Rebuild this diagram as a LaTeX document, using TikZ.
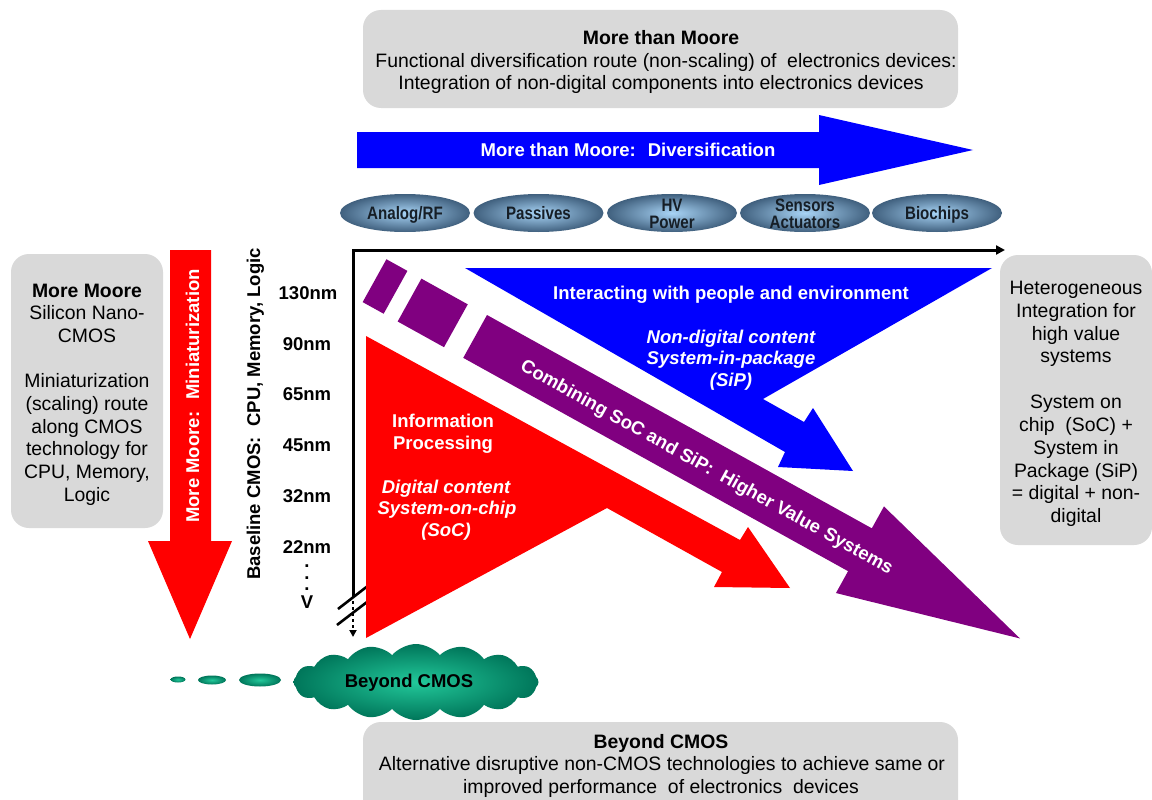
\documentclass[tikz,border=0pt]{standalone}
\usepackage{fontspec}
\setmainfont{Liberation Sans}
\usetikzlibrary{shapes.symbols,shapes.geometric,arrows.meta}
\definecolor{boxgray}{HTML}{D9D9D9}
\definecolor{mblue}{HTML}{0000FF}
\definecolor{mred}{HTML}{FF0000}
\definecolor{mpurple}{HTML}{800080}
\definecolor{cgreenin}{HTML}{22C89A}
\definecolor{cgreenout}{HTML}{00765A}
\definecolor{ellin}{HTML}{A8D4F6}
\definecolor{ellout}{HTML}{40607E}
\definecolor{elltext}{HTML}{161E26}
\begin{document}
\begin{tikzpicture}[x=1pt,y=-1pt,
  reg/.style={font=\fontsize{19.4}{22.7}\selectfont, inner sep=0, anchor=base, text=black},
  regb/.style={reg, font=\fontsize{19.4}{22.7}\selectfont\bfseries},
  wb/.style={font=\fontsize{18.5}{22}\selectfont\bfseries, text=white, inner sep=0, anchor=base},
  wbi/.style={wb, font=\fontsize{18.5}{22}\selectfont\bfseries\itshape},
  pword/.style={wb, anchor=base west, transform shape},
  lab/.style={font=\fontsize{18.5}{22}\selectfont\bfseries, inner sep=0, anchor=base, text=black},
  pilltext/.style={font=\fontsize{18}{17}\selectfont\bfseries, inner sep=0, anchor=base, text=elltext},
  graybox/.style={fill=boxgray, rounded corners=18pt, inner sep=0},
  pill/.style={ellipse, minimum width=130, minimum height=38, inner sep=0, shading=radial, inner color=ellin, outer color=ellout},
  blob/.style={ellipse, inner sep=0, shading=radial, inner color=cgreenin, outer color=cgreenout},
  axisline/.style={line width=3pt, draw=black}]

\useasboundingbox (0,0) rectangle (1152,800);
\fill[white] (0,0) rectangle (1152,800);

% ---------- gray boxes ----------
\node[graybox, minimum width=595, minimum height=98] (topbox) at (660.5,59) {};
\node[graybox, minimum width=152, minimum height=274] (leftbox) at (87,391) {};
\node[graybox, minimum width=152, minimum height=290] (rightbox) at (1076,400) {};
\node[graybox, minimum width=595, minimum height=110] (botbox) at (660.5,777) {};

% top box text
\node[regb] (t1) at (661,45) {More than Moore};
\node[reg] (t2) at (666,67) {Functional diversification route (non-scaling) of~ electronics devices:};
\node[reg] (t3) at (661,90) {Integration of non-digital components into electronics devices};

% bottom box text
\node[regb] (b1) at (661,748) {Beyond CMOS};
\node[reg] (b2) at (662,770) {Alternative disruptive non-CMOS technologies to achieve same or};
\node[reg] (b3) at (661,793) {improved performance~ of electronics~ devices};

% left box text
\node[regb] (l1) at (87,297) {More Moore};
\node[reg] (l2) at (87,319.7) {Silicon Nano-};
\node[reg] (l3) at (87,342.4) {CMOS};
\node[reg] (l4) at (87,387.8) {Miniaturization};
\node[reg] (l5) at (87,410.5) {(scaling) route};
\node[reg] (l6) at (87,433.2) {along CMOS};
\node[reg] (l7) at (87,455.9) {technology for};
\node[reg] (l8) at (87,478.6) {CPU, Memory,};
\node[reg] (l9) at (87,501.3) {Logic};

% right box text
\node[reg] (r1) at (1076,294) {Heterogeneous};
\node[reg] (r2) at (1076,317) {Integration for};
\node[reg] (r3) at (1076,340) {high value};
\node[reg] (r4) at (1076,362) {systems};
\node[reg] (r5) at (1076,408) {System on};
\node[reg] (r6) at (1076,431) {chip~ (SoC) +};
\node[reg] (r7) at (1076,454) {System in};
\node[reg] (r8) at (1076,477) {Package (SiP)};
\node[reg] (r9) at (1076,499) {= digital + non-};
\node[reg] (r10) at (1076,522) {digital};

% ---------- blue diversification arrow ----------
\fill[mblue] (357,132) -- (819,132) -- (819,115) -- (973,150) -- (819,185) -- (819,168) -- (357,168) -- cycle;
\node[wb] (divtext) at (628,156.5) {More than Moore:~ Diversification};

% ---------- pills ----------
\node[pill] (p1) at (405,213) {};
\node[pill] (p2) at (538.5,213) {};
\node[pill] (p3) at (672,213) {};
\node[pill] (p4) at (805,213) {};
\node[pill] (p5) at (937,213) {};
\node[pilltext] (p1t) at (405,219.5) {\scalebox{0.84}[1]{Analog/RF}};
\node[pilltext] (p2t) at (538.5,219.5) {\scalebox{0.84}[1]{Passives}};
\node[pilltext] (p3ta) at (672,211) {\scalebox{0.84}[1]{HV}};
\node[pilltext] (p3tb) at (672,228) {\scalebox{0.84}[1]{Power}};
\node[pilltext] (p4ta) at (805,211) {\scalebox{0.84}[1]{Sensors}};
\node[pilltext] (p4tb) at (805,228) {\scalebox{0.84}[1]{Actuators}};
\node[pilltext] (p5t) at (937,219.5) {\scalebox{0.84}[1]{Biochips}};

% ---------- red More Moore arrow ----------
\fill[mred] (170,250) -- (211,250) -- (211,541) -- (232,541) -- (190,639) -- (148,541) -- (170,541) -- cycle;
\node[wb, anchor=center, rotate=90] (mmtext) at (192.5,396) {More Moore:~ Miniaturization};

% baseline text
\node[lab, anchor=center, rotate=90] (basetext) at (255.5,414) {Baseline CMOS:~ CPU, Memory, Logic};

% nm labels
\node[lab] (n130) at (308,299.5) {130nm};
\node[lab] (n90) at (307,350.5) {90nm};
\node[lab] (n65) at (307,400.5) {65nm};
\node[lab] (n45) at (307,451.5) {45nm};
\node[lab] (n32) at (307,502.5) {32nm};
\node[lab] (n22) at (307,553.5) {22nm};
\node[lab] (d1) at (307,567) {.};
\node[lab] (d2) at (307,579) {.};
\node[lab] (d3) at (307,590) {.};
\node[lab] (nv) at (307,608.5) {V};

% ---------- axes ----------
\coordinate (axB) at (353,597);
\coordinate (axO) at (353,250);
\coordinate (axE) at (1005,250);
\draw[axisline, -{Triangle[length=9pt,width=9pt]}] (axB) -- (axO) -- (axE);
\coordinate (br1a) at (338,609); \coordinate (br1b) at (369,585);
\coordinate (br2a) at (337,625); \coordinate (br2b) at (367,602);
\draw[line width=2.6pt] (br1a) -- (br1b);
\draw[line width=2.6pt] (br2a) -- (br2b);
\coordinate (dotS) at (353,601);
\coordinate (dotE) at (353,637);
\draw[line width=2pt, dash pattern=on 2.5pt off 3.5pt, -{Triangle[length=7pt,width=7pt]}] (dotS) -- (dotE);

% ---------- red SoC shape ----------
\fill[mred] (366,336) -- (740,540) -- (748,527) -- (790,588) -- (714,587) -- (722,572) -- (607,508) -- (366,638) -- cycle;
\node[wb] (rt1) at (443,427.5) {Information};
\node[wb] (rt2) at (443,449.5) {Processing};
\node[wbi] (rt3) at (446,493.5) {Digital content};
\node[wbi] (rt4) at (447,514.5) {System-on-chip};
\node[wbi] (rt5) at (446,536.5) {(SoC)};

% ---------- blue SiP shape ----------
\fill[mblue] (465,268) -- (992,268) -- (763,399) -- (804,422) -- (813,408) -- (853,471) -- (778,467) -- (785,452) -- cycle;
\node[wb] (bt1) at (731,299.5) {Interacting with people and environment};
\node[wbi] (bt2) at (731,343.5) {Non-digital content};
\node[wbi] (bt3) at (731,364.5) {System-in-package};
\node[wbi] (bt4) at (731,386.5) {(SiP)};

% ---------- purple combining arrow ----------
\begin{scope}[shift={(487,315)}, rotate=-29]
  \fill[mpurple] (-115,0) rectangle (-91,49);
  \fill[mpurple] (-75,0) rectangle (-22,49);
  \fill[mpurple] (0,0) -- (440,0) -- (440,-25) -- (623,24.5) -- (440,74) -- (440,49) -- (0,49) -- cycle;
  \node[pword] (pw1) at (54.6,32.3) {Combining};
  \node[pword] (pw2) at (156.3,32.3) {SoC};
  \node[pword] (pw3) at (198.4,32.3) {and};
  \node[pword] (pw4) at (236.5,32.3) {SiP:};
  \node[pword] (pw5) at (282.8,32.3) {Higher};
  \node[pword] (pw6) at (346.5,32.3) {Value};
  \node[pword] (pw7) at (401.1,32.3) {Systems};
\end{scope}

% ---------- beyond CMOS cloud ----------
\node[cloud, cloud puffs=16, cloud puff arc=100, aspect=3.2, minimum width=245, minimum height=76, inner sep=0, shading=radial, inner color=cgreenin, outer color=cgreenout] (cloud) at (416,682) {};
\node[lab] (cloudtext) at (409,687.5) {Beyond CMOS};
\node[blob, minimum width=15, minimum height=6] (e1) at (178,679.5) {};
\node[blob, minimum width=28, minimum height=9] (e2) at (212,680) {};
\node[blob, minimum width=42, minimum height=13] (e3) at (260,680) {};

\end{tikzpicture}
\end{document}
